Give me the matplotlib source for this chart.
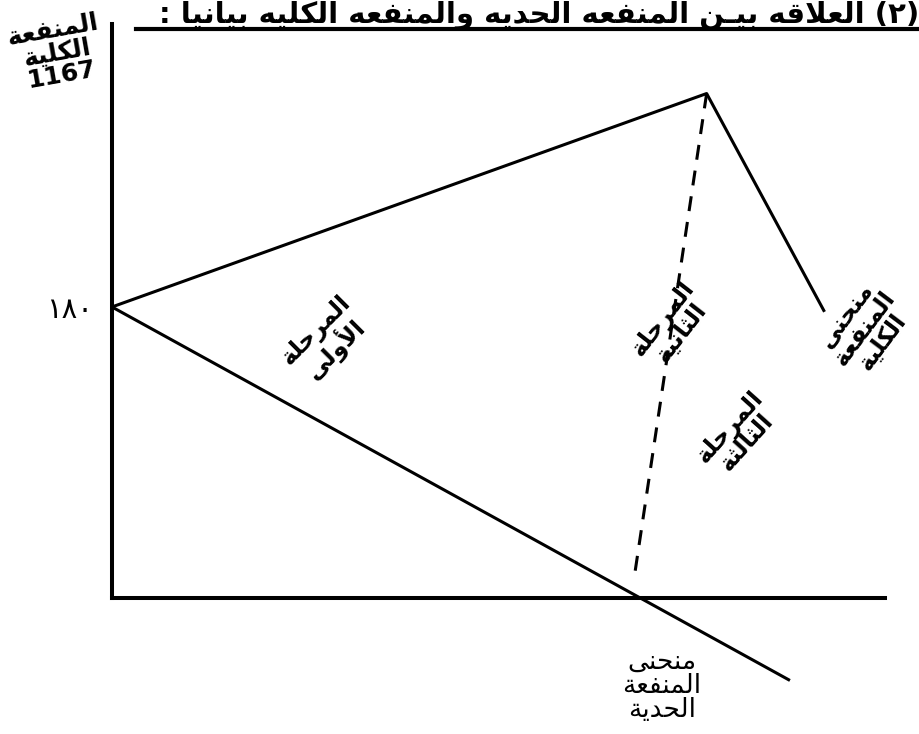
import matplotlib.pyplot as plt
from matplotlib.lines import Line2D

# values (quantity on x, utility on y)
tu_x = [0, 11.35, 13.6]      # total utility curve
tu_y = [180, 312, 177]
mu_x = [0, 12.94]            # marginal utility curve
mu_y = [180, -51]
split_x = [11.35, 9.96]      # dashed line from the top of TU down to the x axis
split_y = [312, 11]
y_ticks = [180]
y_tick_labels = ['١٨٠']

title = '(٢) العلاقه بيـن المنفعه الحديه والمنفعه الكليه بيانيا :'
y_title = 'المنفعة\nالكلية\n1167'
stage1 = 'المرحلة\nالأولى'
stage2 = 'المرحلة\nالثانية'
stage3 = 'المرحلة\nالثالثة'
tu_label = 'منحنى\nالمنفعة\nالكلية'
mu_label = 'منحنى\nالمنفعة\nالحدية'

# matplotlib has no arabic shaping, so pick the presentation forms by hand
LETTERS = 'ءآأؤإئابةتثجحخدذرزسشصضطظعغفقكلمنهوىي'
NFORMS = [1, 2, 2, 2, 2, 4, 2, 4, 2, 4, 4, 4, 4, 4, 2, 2, 2, 2] + [4] * 15 + [2, 2, 4]
LAMALEF = {'آ': 0xFEF5, 'أ': 0xFEF7, 'إ': 0xFEF9, 'ا': 0xFEFB}
forms = {}
code = 0xFE80
for ch, n in zip(LETTERS, NFORMS):
    forms[ch] = [chr(code + k) for k in range(n)]
    code += n

def dual(c):
    return c == 'ـ' or len(forms.get(c, [])) == 4

def joins(c):
    return c == 'ـ' or (c in forms and c != 'ء')

def shape_line(line):
    if not any('\u0621' <= c <= '\u064a' for c in line):
        return line
    out = []
    i = 0
    while i < len(line):
        c = line[i]
        prev = line[i - 1] if i > 0 else ' '
        nxt = line[i + 1] if i + 1 < len(line) else ' '
        from_prev = dual(prev) and joins(c)
        if c == 'ل' and nxt in LAMALEF:  # lam-alef ligature
            out.append(chr(LAMALEF[nxt] + int(from_prev)))
            i += 2
            continue
        if c not in forms:
            out.append(c)
            i += 1
            continue
        to_next = dual(c) and joins(nxt)
        f = forms[c]
        if from_prev and to_next:
            out.append(f[3])
        elif from_prev:
            out.append(f[1])
        elif to_next:
            out.append(f[2])
        else:
            out.append(f[0])
        i += 1
    vis = ''.join(reversed(out))  # right to left
    return vis.translate(str.maketrans('()', ')('))

def ar(text):
    return '\n'.join(shape_line(l) for l in text.split('\n'))

plt.rcParams['font.family'] = ['DejaVu Sans']

fig = plt.figure(figsize=(9.2, 7.34), dpi=100)
ax = fig.add_axes([0.1217, 0.1853, 0.840, 0.782])

ax.plot(tu_x, tu_y, color='black', lw=2.2, solid_capstyle='butt')
ax.plot(mu_x, mu_y, color='black', lw=2.2, clip_on=False, solid_capstyle='butt')
ax.plot(split_x, split_y, color='black', lw=2.2, dashes=(4.9, 3.6))

ax.set_xlim(0, 14.75)
ax.set_ylim(0, 355)
for side in ['top', 'right']:
    ax.spines[side].set_visible(False)
for side in ['left', 'bottom']:
    ax.spines[side].set_linewidth(2.9)
    ax.spines[side].set_color('black')
ax.set_xticks([])
ax.set_yticks(y_ticks)
ax.set_yticklabels(y_tick_labels, fontsize=21)
ax.tick_params(axis='y', length=0, pad=14)

# title with its underline, at the very top like the original
fig.text(0.999, 0.969, ar(title), ha='right', va='baseline', fontsize=21, fontweight='bold')
fig.add_artist(Line2D([136 / 920, 1.0], [1 - 29 / 734] * 2, color='black', lw=3,
                      transform=fig.transFigure))

fig.text(0.062, 0.928, ar(y_title), ha='center', va='center', rotation=10,
         fontsize=18, fontweight='heavy', linespacing=0.95, multialignment='center')

kw = dict(ha='center', va='center', fontweight='heavy', fontsize=17,
          linespacing=0.9, multialignment='center', rotation_mode='anchor')
fig.text(326 / 920, 1 - 340 / 734, ar(stage1), rotation=45, **kw)
fig.text(672 / 920, 1 - 326 / 734, ar(stage2), rotation=52, **kw)
fig.text(738 / 920, 1 - 435 / 734, ar(stage3), rotation=48, **kw)
fig.text(864 / 920, 1 - 328 / 734, ar(tu_label), rotation=53, **kw)

fig.text(662 / 920, 1 - 686 / 734, ar(mu_label), ha='center', va='center',
         fontsize=19, linespacing=0.92, multialignment='center')

fig.savefig('out.png', dpi=100)
